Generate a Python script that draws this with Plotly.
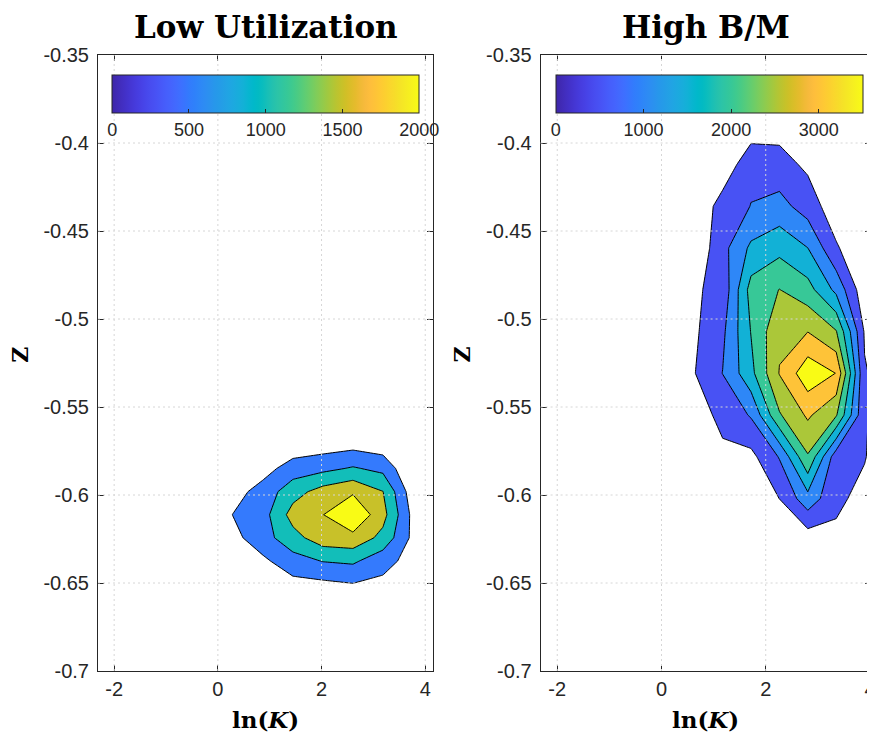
import plotly.graph_objects as go

# ---------------- data ----------------
# Left panel: "Low Utilization"
left_lnk = [-0.287, 0.291, 0.870, 1.448, 2.027, 2.606, 3.184, 3.763, 4.342]
left_z = [-0.6638, -0.6506, -0.6375, -0.6243, -0.6112, -0.5981, -0.5849, -0.5717, -0.5585]
left_counts = [
    [0, 0, 0, 0, 0, 0, 0, 0, 0],
    [0, 0, 50, 345, 393, 482, 379, 100, 0],
    [0, 150, 400, 800, 1020, 1084, 690, 302, 0],
    [0, 350, 800, 1318, 1785, 1854, 1350, 380, 0],
    [0, 510, 804, 1697, 1990, 2448, 1676, 355, 0],
    [0, 300, 700, 1300, 1700, 1933, 1510, 202, 0],
    [0, 100, 300, 734, 867, 1049, 864, 0, 0],
    [0, 0, 0, 190, 275, 355, 236, 0, 0],
    [0, 0, 0, 0, 0, 0, 0, 0, 0],
]
left_levels = [500, 1000, 1500, 2000]
left_cbar_ticks = [0, 500, 1000, 1500, 2000]

# Right panel: "High B/M"
right_lnk = [0.084, 0.629, 1.174, 1.718, 2.263, 2.807, 3.352, 3.897, 4.441]
right_z = [-0.6495, -0.6258, -0.6020, -0.5783, -0.5546, -0.5308, -0.5071,
           -0.4834, -0.4597, -0.4359, -0.4122, -0.3885, -0.3648]
right_counts = [
    [0, 0, 0, 0, 0, 0, 0, 0, 0],
    [0, 0, 0, 0, 50, 182, 392, 100, 0],
    [0, 0, 0, 100, 505, 1318, 600, 356, 0],
    [0, 50, 420, 362, 1034, 2454, 700, 530, 50],
    [0, 322, 600, 1050, 2450, 3079, 2550, 560, 100],
    [0, 480, 1010, 1860, 3023, 3831, 3490, 540, 207],
    [0, 418, 900, 2020, 2908, 2990, 2530, 450, 0],
    [0, 436, 650, 2200, 2510, 2194, 1375, 160, 0],
    [0, 100, 840, 1600, 1851, 1505, 560, 60, 0],
    [0, 0, 750, 1010, 1176, 765, 200, 0, 0],
    [0, 0, 100, 900, 680, 407, 0, 0, 0],
    [0, 0, 0, 100, 289, 0, 0, 0, 0],
    [0, 0, 0, 0, 0, 0, 0, 0, 0],
]
right_levels = [500, 1000, 1500, 2000, 2500, 3000, 3500]
right_cbar_ticks = [0, 1000, 2000, 3000]

titles = ["Low Utilization", "High B/M"]
x_ticks = [-2, 0, 2, 4]
x_tick_labels = ["-2", "0", "2", "4"]
y_ticks = [-0.7, -0.65, -0.6, -0.55, -0.5, -0.45, -0.4, -0.35]
y_tick_labels = ["-0.7", "-0.65", "-0.6", "-0.55", "-0.5", "-0.45", "-0.4", "-0.35"]

# ---------------- style ----------------
PARULA = [
    [0.2422, 0.1504, 0.6603], [0.2504, 0.1650, 0.7076], [0.2578, 0.1818, 0.7511],
    [0.2647, 0.1978, 0.7952], [0.2706, 0.2147, 0.8364], [0.2751, 0.2342, 0.8710],
    [0.2783, 0.2559, 0.8991], [0.2803, 0.2782, 0.9221], [0.2813, 0.3006, 0.9414],
    [0.2810, 0.3228, 0.9579], [0.2795, 0.3447, 0.9717], [0.2760, 0.3667, 0.9829],
    [0.2699, 0.3892, 0.9906], [0.2602, 0.4123, 0.9952], [0.2440, 0.4358, 0.9988],
    [0.2206, 0.4603, 0.9973], [0.1963, 0.4847, 0.9892], [0.1834, 0.5074, 0.9798],
    [0.1786, 0.5289, 0.9682], [0.1764, 0.5499, 0.9520], [0.1687, 0.5703, 0.9359],
    [0.1540, 0.5902, 0.9218], [0.1460, 0.6091, 0.9079], [0.1380, 0.6276, 0.8973],
    [0.1248, 0.6459, 0.8883], [0.1113, 0.6635, 0.8763], [0.0952, 0.6798, 0.8598],
    [0.0689, 0.6948, 0.8394], [0.0297, 0.7082, 0.8163], [0.0036, 0.7203, 0.7917],
    [0.0067, 0.7312, 0.7660], [0.0433, 0.7411, 0.7394], [0.0964, 0.7500, 0.7120],
    [0.1408, 0.7584, 0.6842], [0.1717, 0.7670, 0.6554], [0.1938, 0.7758, 0.6251],
    [0.2161, 0.7843, 0.5923], [0.2470, 0.7918, 0.5567], [0.2906, 0.7973, 0.5188],
    [0.3406, 0.8008, 0.4789], [0.3909, 0.8029, 0.4354], [0.4456, 0.8024, 0.3909],
    [0.5044, 0.7993, 0.3480], [0.5616, 0.7942, 0.3045], [0.6174, 0.7876, 0.2612],
    [0.6720, 0.7793, 0.2227], [0.7242, 0.7698, 0.1910], [0.7738, 0.7598, 0.1646],
    [0.8203, 0.7498, 0.1535], [0.8634, 0.7406, 0.1596], [0.9035, 0.7330, 0.1774],
    [0.9393, 0.7288, 0.2100], [0.9728, 0.7298, 0.2394], [0.9956, 0.7434, 0.2371],
    [0.9970, 0.7659, 0.2199], [0.9952, 0.7893, 0.2028], [0.9892, 0.8136, 0.1885],
    [0.9786, 0.8386, 0.1766], [0.9676, 0.8639, 0.1643], [0.9610, 0.8890, 0.1537],
    [0.9597, 0.9135, 0.1423], [0.9628, 0.9373, 0.1265], [0.9691, 0.9606, 0.1064],
    [0.9769, 0.9839, 0.0805],
]


def rgb(c):
    return "rgb(%d,%d,%d)" % tuple(int(round(255 * v)) for v in c)


def parula(f):
    f = min(max(f, 0.0), 1.0)
    pos = f * (len(PARULA) - 1)
    i = int(pos)
    if i >= len(PARULA) - 1:
        return rgb(PARULA[-1])
    t = pos - i
    return rgb([PARULA[i][j] * (1 - t) + PARULA[i + 1][j] * t for j in range(3)])


PARULA_SCALE = [[i / (len(PARULA) - 1), rgb(c)] for i, c in enumerate(PARULA)]


def band_scale(levels):
    # MATLAB contourf: band above level L takes the colour of L on [0, max level]
    nc = len(levels)
    cmax = levels[-1]
    scale = [[0.0, "rgba(255,255,255,0)"]]
    for k, lev in enumerate(levels, start=1):
        scale.append([k / nc, parula(lev / cmax)])
    return scale


AX = "#262626"
TICKFONT = dict(family="Liberation Sans, Arial, sans-serif", size=20, color=AX)
GRID = "#d6d6d6"

# The page adds an 8px body margin, so the figure is made 8px smaller and
# every reference pixel position p is placed at p - OFF.
OFF = 8
W, H = 875 - OFF, 732 - OFF
PLOT_L, PLOT_R, PLOT_T, PLOT_B = 98.3, 871.5, 55.4, 670.7   # reference pixels
ML, MT = PLOT_L - OFF, PLOT_T - OFF
MR, MB = 875 - PLOT_R, 732 - PLOT_B
PW = W - ML - MR
PH = H - MT - MB


def px_x(p):   # reference x-pixel -> paper fraction
    return (p - PLOT_L) / PW


def px_y(p):   # reference y-pixel -> paper fraction
    return 1 - (p - PLOT_T) / PH


left_dom = [0.0, px_x(433.6)]
right_dom = [px_x(541.0), 1.0]
left_range = [-2.312, 4.154]
right_range = [-2.32, 4.02]

fig = go.Figure()

panels = [
    (left_lnk, left_z, left_counts, left_levels, left_cbar_ticks, "x", "y", left_dom, (112.7, 419.3)),
    (right_lnk, right_z, right_counts, right_levels, right_cbar_ticks, "x2", "y2", right_dom, (556.0, 863.3)),
]

for (xs, ys, zz, levels, cticks, xa, ya, dom, cb) in panels:
    fig.add_trace(go.Contour(
        x=xs, y=ys, z=zz, xaxis=xa, yaxis=ya,
        autocontour=False,
        contours=dict(start=levels[0], end=levels[-1], size=levels[1] - levels[0],
                      coloring="fill", showlines=True),
        line=dict(color="black", width=1, smoothing=0),
        colorscale=band_scale(levels), showscale=False, hoverinfo="skip",
    ))
    fig.add_trace(go.Scatter(
        x=[None], y=[None], xaxis=xa, yaxis=ya, mode="markers", hoverinfo="skip",
        showlegend=False,
        marker=dict(color=[0], cmin=0, cmax=levels[-1], colorscale=PARULA_SCALE,
                    showscale=True,
                    colorbar=dict(orientation="h", x=px_x((cb[0] + cb[1]) / 2), xanchor="center",
                                  y=px_y(75), yanchor="top",
                                  len=(cb[1] - cb[0]) / PW, lenmode="fraction",
                                  thickness=38, xpad=0, ypad=0,
                                  outlinecolor=AX, outlinewidth=1,
                                  tickvals=cticks, ticks="inside", ticklen=4,
                                  tickcolor=AX,
                                  tickfont=dict(family=TICKFONT["family"], size=18, color=AX))),
    ))

axis_common = dict(showline=True, linecolor=AX, linewidth=1, mirror="ticks",
                   ticks="inside", ticklen=6, tickcolor=AX, tickwidth=1,
                   showgrid=False, zeroline=False, tickfont=TICKFONT,
                   ticklabeloverflow="allow")

fig.update_layout(
    width=W, height=H, margin=dict(l=ML, r=MR, t=MT, b=MB, autoexpand=False),
    paper_bgcolor="white", plot_bgcolor="white", showlegend=False,
    xaxis=dict(domain=left_dom, range=left_range, anchor="y",
               tickvals=x_ticks, ticktext=x_tick_labels, **axis_common),
    yaxis=dict(domain=[0, 1], range=[-0.7, -0.35], anchor="x",
               tickvals=y_ticks, ticktext=y_tick_labels, ticklabelstandoff=4, **axis_common),
    xaxis2=dict(domain=right_dom, range=right_range, anchor="y2",
                tickvals=x_ticks, ticktext=x_tick_labels, **axis_common),
    yaxis2=dict(domain=[0, 1], range=[-0.7, -0.35], anchor="x2",
                tickvals=y_ticks, ticktext=y_tick_labels, ticklabelstandoff=4, **axis_common),
)

# dotted grid drawn on top of the filled contours (as MATLAB does)
shapes = []
for (xa, ya, rng) in [("x", "y", left_range), ("x2", "y2", right_range)]:
    for xv in x_ticks:
        if rng[0] < xv < rng[1]:
            shapes.append(dict(type="line", xref=xa, yref=ya + " domain", x0=xv, x1=xv,
                               y0=0, y1=1, layer="above",
                               line=dict(color=GRID, width=1, dash="2px,3px")))
    for yv in y_ticks[1:-1]:
        shapes.append(dict(type="line", xref=xa + " domain", yref=ya, x0=0, x1=1,
                           y0=yv, y1=yv, layer="above",
                           line=dict(color=GRID, width=1, dash="2px,3px")))
fig.update_layout(shapes=shapes)

ann = []
for title, dom, zx in zip(titles, [left_dom, right_dom], [20.0, 462.0]):
    cx = (dom[0] + dom[1]) / 2
    ann.append(dict(text="<b>%s</b>" % title, xref="paper", yref="paper", x=cx,
                    y=px_y(27), xanchor="center", yanchor="middle",
                    showarrow=False,
                    font=dict(family="DejaVu Serif, serif", size=31, color="black")))
    ann.append(dict(text="<b>ln(<i>K</i>)</b>", xref="paper", yref="paper", x=cx,
                    y=px_y(719), xanchor="center", yanchor="middle",
                    showarrow=False,
                    font=dict(family="DejaVu Serif, serif", size=23, color="black")))
    ann.append(dict(text="<b>Z</b>", xref="paper", yref="paper",
                    x=px_x(zx), y=px_y(355),
                    xanchor="center", yanchor="middle", textangle=-90, showarrow=False,
                    font=dict(family="DejaVu Serif, serif", size=22, color="black")))
fig.update_layout(annotations=ann)

fig.write_html("out.html")
